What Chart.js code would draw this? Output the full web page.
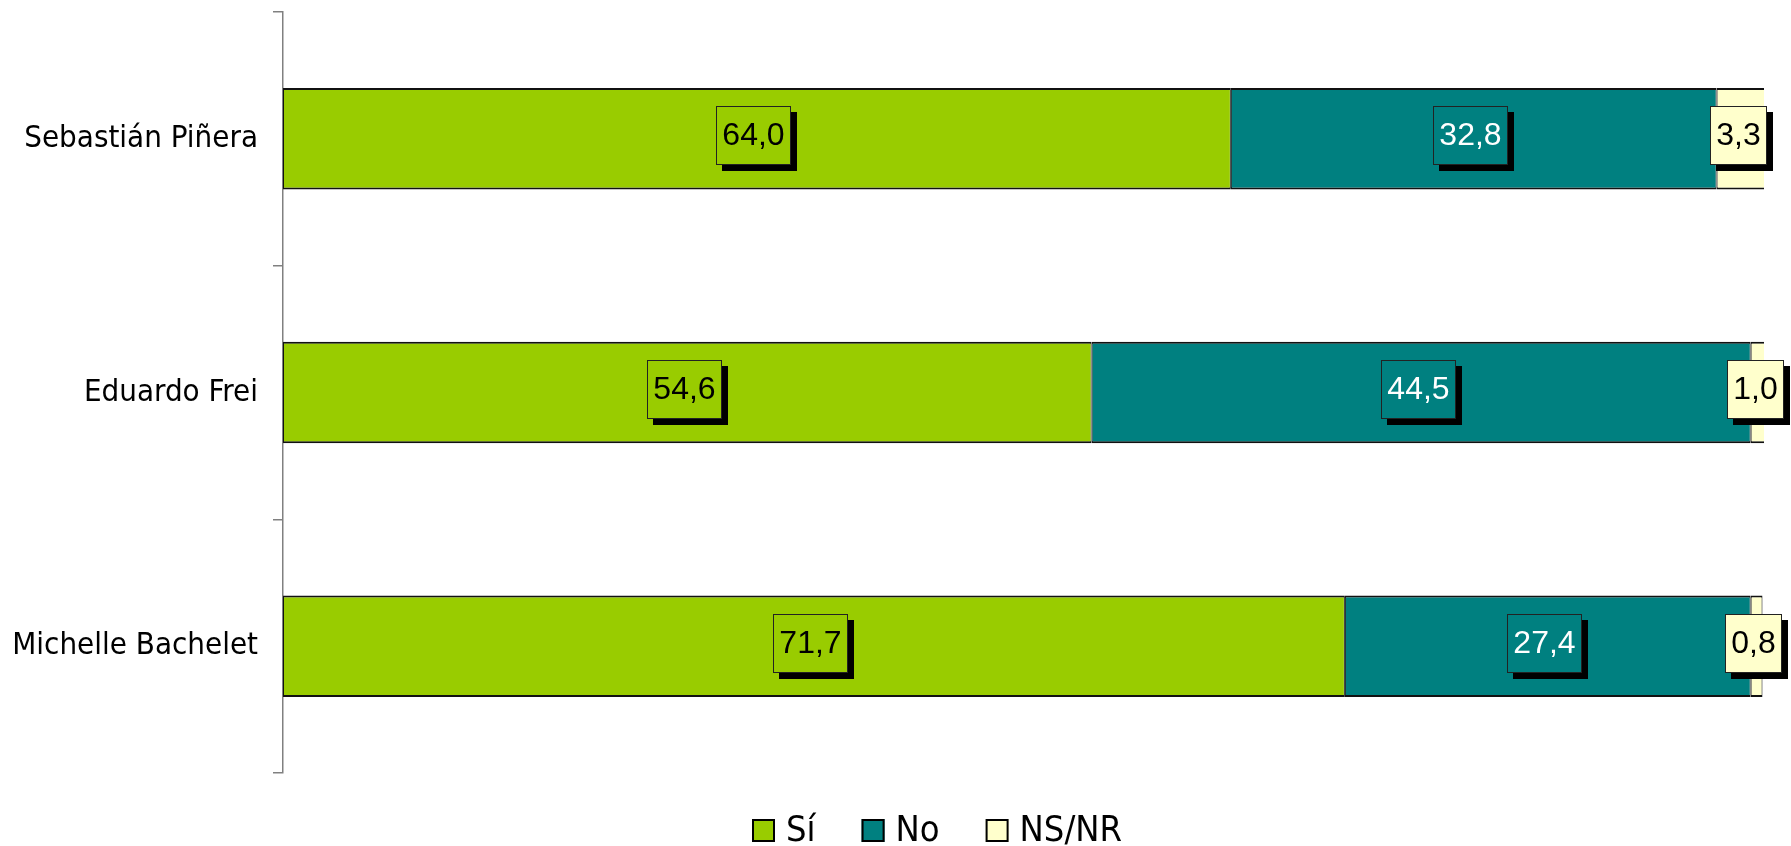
<!DOCTYPE html>
<html>
<head>
<meta charset="utf-8">
<title>Sí / No / NS-NR</title>
<script src="https://cdn.jsdelivr.net/npm/chart.js@4/dist/chart.umd.min.js"></script>
<style>
  html, body { margin: 0; padding: 0; background: #fff; }
  #wrap { width: 1791px; height: 846px; }
</style>
</head>
<body>
<div id="wrap"><canvas id="chart" width="1791" height="846"></canvas></div>
<script>
// data
const categories = ['Sebastián Piñera', 'Eduardo Frei', 'Michelle Bachelet'];
const seriesNames = ['Sí', 'No', 'NS/NR'];
const siValues = [64.0, 54.6, 71.7];
const noValues = [32.8, 44.5, 27.4];
const nsnrValues = [3.3, 1.0, 0.8];
const seriesColors = ['#99CC00', '#008080', '#FFFFCC'];
const labelTextColors = ['#000000', '#FFFFFF', '#000000'];

const catFont = "'DejaVu Sans Condensed', 'DejaVu Sans', sans-serif";
const valueFont = "'Liberation Sans', Arial, sans-serif";

// boxed value labels with a drop shadow, centred on each segment
const valueBoxes = {
  id: 'valueBoxes',
  afterDatasetsDraw(chart) {
    const ctx = chart.ctx;
    const sh = 6, boxH = 59, padX = 6.5;
    ctx.save();
    ctx.font = '32px ' + valueFont;
    ctx.textAlign = 'center';
    ctx.textBaseline = 'middle';
    chart.data.datasets.forEach((ds, di) => {
      const meta = chart.getDatasetMeta(di);
      meta.data.forEach((bar, i) => {
        const txt = ds.data[i].toFixed(1).replace('.', ',');
        const w = Math.round(ctx.measureText(txt).width + padX * 2);
        const cx = (bar.x + bar.base) / 2;
        const cy = bar.y;
        const left = Math.round(cx - (w + sh) / 2);
        const top = Math.round(cy - (boxH + sh) / 2);
        ctx.fillStyle = '#000';
        ctx.fillRect(left + sh, top + sh, w, boxH);
        ctx.fillStyle = ds.backgroundColor;
        ctx.fillRect(left, top, w, boxH);
        ctx.strokeStyle = '#222';
        ctx.lineWidth = 1;
        ctx.strokeRect(left + 0.5, top + 0.5, w - 1, boxH - 1);
        ctx.fillStyle = labelTextColors[di];
        ctx.fillText(txt, left + w / 2, top + boxH / 2 + 1);
      });
    });
    ctx.restore();
  }
};

// legend drawn under the plot
const bottomLegend = {
  id: 'bottomLegend',
  afterDraw(chart) {
    const ctx = chart.ctx;
    const centerX = 937, centerY = 830.5;
    const sq = 23, gapText = 11, gapItem = 46;
    ctx.save();
    ctx.font = '36px ' + catFont;
    ctx.textBaseline = 'middle';
    ctx.textAlign = 'left';
    const widths = seriesNames.map(n => ctx.measureText(n).width);
    let total = 0;
    widths.forEach((tw, i) => { total += sq + gapText + tw + (i < widths.length - 1 ? gapItem : 0); });
    let x = Math.round(centerX - total / 2);
    seriesNames.forEach((name, i) => {
      ctx.fillStyle = seriesColors[i];
      ctx.fillRect(x, centerY - sq / 2, sq, sq);
      ctx.strokeStyle = '#000';
      ctx.lineWidth = 2;
      ctx.strokeRect(x + 1, centerY - sq / 2 + 1, sq - 2, sq - 2);
      ctx.fillStyle = '#000';
      ctx.fillText(name, x + sq + gapText, centerY + 1);
      x += sq + gapText + widths[i] + gapItem;
    });
    ctx.restore();
  }
};

const datasets = [siValues, noValues, nsnrValues].map((vals, i) => ({
  label: seriesNames[i],
  data: vals,
  backgroundColor: seriesColors[i],
  borderColor: '#111',
  borderWidth: { top: 2, bottom: 2, left: 1, right: 1 },
  borderSkipped: false,
  barPercentage: 0.4,
  categoryPercentage: 1.0
}));

new Chart(document.getElementById('chart'), {
  type: 'bar',
  data: { labels: categories, datasets: datasets },
  options: {
    indexAxis: 'y',
    responsive: false,
    animation: false,
    layout: { padding: { top: 12, right: 27, bottom: 73, left: 0 } },
    plugins: {
      legend: { display: false },
      tooltip: { enabled: false }
    },
    scales: {
      x: {
        stacked: true,
        min: 0,
        max: 100,
        display: false
      },
      y: {
        stacked: true,
        offset: true,
        afterFit: (scale) => {
          scale.width = 283;
          scale.paddingTop = 0;
          scale.paddingBottom = 0;
        },
        grid: {
          offset: true,
          drawOnChartArea: false,
          drawTicks: true,
          tickLength: 10,
          color: '#808080',
          lineWidth: 1.5
        },
        border: { display: true, color: '#808080', width: 1.5 },
        ticks: {
          color: '#000',
          padding: 15,
          font: { family: catFont, size: 31 }
        }
      }
    }
  },
  plugins: [valueBoxes, bottomLegend]
});
</script>
</body>
</html>
